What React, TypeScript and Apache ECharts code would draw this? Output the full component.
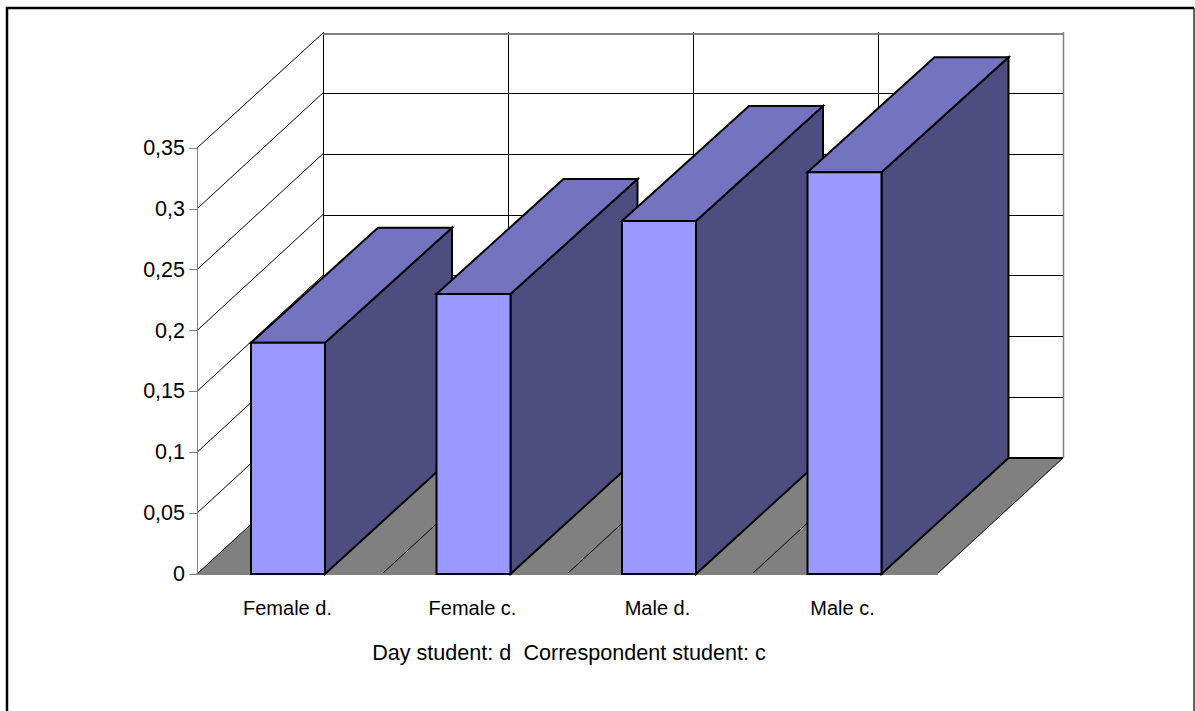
import React, { useEffect, useRef } from "react";
import * as echarts from "echarts";

const categories = ["Female d.", "Female c.", "Male d.", "Male c."];
const shares = [0.19, 0.23, 0.29, 0.33];
const tickValues = [0, 0.05, 0.1, 0.15, 0.2, 0.25, 0.3, 0.35];
const tickLabels = ["0", "0,05", "0,1", "0,15", "0,2", "0,25", "0,3", "0,35"];
const axisTitle = "Day student: d  Correspondent student: c";

// Oblique projection of the chart box, in pixels
const DEPTH_X = 126;
const DEPTH_Y = -116;
const BAR_DEPTH_X = 127;
const BAR_WIDTH = 74;
const BAR_SHIFT = -1.5;
const BAR_DRIFT = 0.5;

const FONT = "'Liberation Sans', Arial, sans-serif";
const GREY = "#808080";
const INK = "#000000";

// Half-pixel offset keeps axis-parallel hairlines crisp
const crisp = (v: number) => Math.round(v) + 0.5;

const seg = (x1: number, y1: number, x2: number, y2: number, stroke: string, lineWidth = 1) => ({
  type: "line",
  shape: { x1, y1, x2, y2 },
  style: { stroke, lineWidth, fill: "none" },
});

const poly = (points: number[][], fill: string, stroke: string, lineWidth = 2) => ({
  type: "polygon",
  shape: { points },
  style: { fill, stroke, lineWidth, lineJoin: "miter" },
});

export default function App() {
  const ref = useRef<HTMLDivElement>(null);

  useEffect(() => {
    document.body.style.margin = "0";
    const chart = echarts.init(ref.current!, undefined, { renderer: "svg" });

    const option = {
      animation: false,
      backgroundColor: "#ffffff",
      tooltip: { show: false },
      graphic: [
        {
          // Page frame: open at the bottom, heavier on the top and left
          type: "polyline",
          z: -1,
          shape: { points: [[7, 711], [7, 8], [1194, 8]] },
          style: { fill: "none", stroke: INK, lineWidth: 2.5 },
        },
        {
          type: "line",
          z: -1,
          shape: { x1: 1194, y1: 8, x2: 1194, y2: 711 },
          style: { stroke: "#303030", lineWidth: 1.5 },
        },
      ],
      grid: { left: 197, top: 148, width: 740, height: 426 },
      xAxis: {
        type: "category",
        data: categories,
        z: 3,
        axisTick: { show: false },
        axisLine: { lineStyle: { color: GREY, width: 2 } },
        axisLabel: {
          color: INK,
          fontFamily: FONT,
          fontSize: 20,
          margin: 24,
          padding: [0, 4, 0, 0],
        },
        name: axisTitle,
        nameLocation: "middle",
        nameGap: 67,
        nameTextStyle: { color: INK, fontFamily: FONT, fontSize: 21.6, padding: [0, 0, 0, 4] },
      },
      yAxis: {
        type: "value",
        min: 0,
        max: 0.35,
        interval: 0.05,
        z: 3,
        splitLine: { show: false },
        axisLine: { show: true, lineStyle: { color: GREY, width: 1 } },
        axisTick: { show: true, length: 8, lineStyle: { color: GREY, width: 1 } },
        axisLabel: {
          color: INK,
          fontFamily: FONT,
          fontSize: 21.5,
          margin: 12,
          padding: [0, 0, 2, 0],
          formatter: (_v: number, i: number) => tickLabels[i],
        },
      },
      series: [
        {
          // Floor of the box and the lines rising from the category boundaries
          type: "custom",
          silent: true,
          clip: false,
          z: 1,
          data: [[0, 0]],
          renderItem: (params: any, api: any) => {
            const box = params.coordSys;
            const y0 = api.coord([0, 0])[1];
            const yTop = api.coord([0, 0.35])[1];
            const left = box.x;
            const right = box.x + box.width;
            const step = box.width / categories.length;
            const yBack = y0 + DEPTH_Y;
            const children: any[] = [
              poly(
                [
                  [left, y0],
                  [right, y0],
                  [right + DEPTH_X, yBack],
                  [left + DEPTH_X, yBack],
                ],
                GREY,
                "none",
                0,
              ),
              seg(left, y0, left + DEPTH_X, yBack, INK),
              seg(right, y0, right + DEPTH_X, yBack, INK),
              seg(left + DEPTH_X, yBack, right + DEPTH_X, yBack, INK, 2),
            ];
            for (let i = 0; i <= categories.length; i++) {
              const x = left + i * step;
              const last = i === categories.length;
              if (i > 0 && !last) children.push(seg(x, y0, x + DEPTH_X, yBack, INK));
              const xBack = crisp(x + DEPTH_X);
              children.push(seg(xBack, yBack, xBack, yTop + DEPTH_Y, last ? GREY : INK, last ? 1.5 : 1));
            }
            return { type: "group", children };
          },
        },
        {
          // Side wall and back wall gridlines, one pair per tick above zero
          type: "custom",
          silent: true,
          clip: false,
          z: 2,
          data: tickValues.slice(1).map((v) => [0, v]),
          renderItem: (params: any, api: any) => {
            const box = params.coordSys;
            const y = api.coord([0, api.value(1)])[1];
            const isTop = api.value(1) === tickValues[tickValues.length - 1];
            const left = box.x;
            const right = box.x + box.width;
            const yBack = isTop ? y + DEPTH_Y + 2 : crisp(y + DEPTH_Y);
            return {
              type: "group",
              children: [
                seg(left, y, left + DEPTH_X, y + DEPTH_Y + (isTop ? 1 : 0), INK),
                seg(left + DEPTH_X, yBack, right + DEPTH_X, yBack, isTop ? GREY : INK, isTop ? 2 : 1),
              ],
            };
          },
        },
        {
          // The four prisms: front, top and right faces
          type: "custom",
          silent: true,
          clip: false,
          z: 5,
          data: shares.map((v, i) => [i, v]),
          renderItem: (_params: any, api: any) => {
            const base = api.coord([api.value(0), 0]);
            const top = api.coord([api.value(0), api.value(1)]);
            const x1 = base[0] - BAR_WIDTH / 2 + BAR_SHIFT + api.value(0) * BAR_DRIFT;
            const x2 = x1 + BAR_WIDTH;
            const y0 = base[1];
            const y1 = top[1];
            return {
              type: "group",
              children: [
                poly(
                  [
                    [x2, y1],
                    [x2 + BAR_DEPTH_X, y1 + DEPTH_Y + 1],
                    [x2 + BAR_DEPTH_X, y0 + DEPTH_Y],
                    [x2, y0],
                  ],
                  "#4D4D7F",
                  INK,
                ),
                poly(
                  [
                    [x1, y1],
                    [x1 + BAR_DEPTH_X, y1 + DEPTH_Y + 1],
                    [x2 + BAR_DEPTH_X, y1 + DEPTH_Y + 1],
                    [x2, y1],
                  ],
                  "#7373BF",
                  INK,
                ),
                poly(
                  [
                    [x1, y1],
                    [x2, y1],
                    [x2, y0],
                    [x1, y0],
                  ],
                  "#9999FF",
                  INK,
                ),
              ],
            };
          },
        },
      ],
    };

    chart.setOption(option as any);
    return () => chart.dispose();
  }, []);

  return <div ref={ref} style={{ width: 1195, height: 711 }} />;
}
